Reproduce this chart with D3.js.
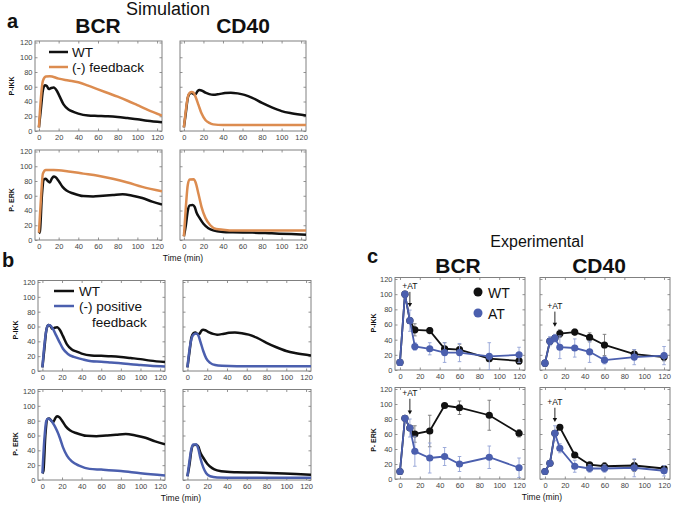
<!DOCTYPE html>
<html>
<head>
<meta charset="utf-8">
<script src="https://cdn.jsdelivr.net/npm/d3@7"></script>
<style>
  body { margin: 0; background: #fff; }
  text { font-family: Arial, "Liberation Sans", sans-serif; }
</style>
</head>
<body>
<div id="chart"></div>
<script>
// Colours
const COL_WT = "#111111";
const COL_FB = "#dc8c50";
const COL_PF = "#4b5fae";

// Tick values
const xTicks = [0, 20, 40, 60, 80, 100, 120];
const yTicks = [0, 20, 40, 60, 80, 100, 120];

// Simulation, WT (shared by a and b)  [time, value]
const wtBcrIkk = [[0,5],[2,30],[4,55],[6,62],[8,61],[10,57],[12,58],[15,59],[18,55],[21,47],[25,36],[30,29],[35,26],[40,23.5],[50,21],[60,20.5],[70,20],[80,19],[90,17.5],[100,16],[110,14],[125,12]];
const wtCd40Ikk = [[0,5],[2,25],[4,45],[6,51],[8,52],[10,50],[12,50],[14,54],[16,55.5],[18,55],[22,52],[26,50],[30,49],[36,50],[42,51.5],[48,52],[55,51],[62,49],[70,45],[80,38],[90,32],[100,27],[110,24],[125,21]];
const wtBcrErk = [[0,9],[1,12],[3,60],[5,82],[7,83],[9,80],[11,78],[13,83],[15,86],[17,85],[20,80],[24,72],[28,67],[35,63],[45,59.5],[55,59],[65,60],[75,61],[85,62],[95,60],[105,57],[115,52],[125,48]];
const wtCd40Erk = [[0,5],[2,20],[4,40],[6,47],[9,47.5],[11,45],[13,37],[16,30],[20,22],[25,16],[30,13],[40,11],[50,10.5],[70,10],[90,9],[110,8],[125,7]];

// Simulation a, (-) feedback
const fbBcrIkk = [[0,5],[2,45],[4,68],[7,74],[11,74.4],[20,71],[30,68.5],[40,66],[50,61.5],[60,56.5],[70,51.5],[80,46.5],[90,41],[100,35],[110,29],[125,21]];
const fbCd40Ikk = [[0,5],[2,28],[4,46],[6,52],[8,53],[10,52],[12,46],[15,35],[18,24],[22,15],[26,11],[30,9],[40,8],[125,8]];
const fbBcrErk = [[0,10],[2,55],[4,90],[7,95],[15,95],[30,93],[45,90],[60,87],[75,83],[90,78],[105,72],[125,66]];
const fbCd40Erk = [[0,5],[2,45],[4,75],[6,82],[10,82.5],[12,78],[15,62],[18,45],[22,30],[27,20],[33,15],[40,14],[50,13],[125,13]];

// Simulation b, (-) positive feedback
const pfBcrIkk = [[0,5],[2,35],[4,55],[6,62],[8,61.5],[11,56],[14,48],[17,40],[21,30],[26,23],[32,19],[40,16],[50,13],[60,12.5],[70,11.5],[80,10.5],[90,9],[100,8],[110,7],[125,6]];
const pfCd40Ikk = [[0,5],[2,28],[4,43],[6,49],[9,50.5],[11,48],[13,40],[16,27],[19,17],[23,11],[28,8],[35,7],[50,6.5],[125,6.5]];
const pfBcrErk = [[0,9],[2,55],[4,80],[6,83],[9,80],[12,74],[15,66],[18,56],[21,44],[25,33],[30,25],[38,19],[48,15],[60,14],[80,12],[100,9],[125,6]];
const pfCd40Erk = [[0,5],[2,25],[4,42],[6,48],[9,48],[11,42],[13,30],[16,17],[19,9],[23,5],[30,3.5],[50,3],[125,3]];

// Experimental c
const expTimes = [0, 5, 10, 15, 30, 45, 60, 90, 120];
const bcrIkkWT = [10, 100, 65, 53, 52, 28, 27, 15, 12];
const bcrIkkWTErr = [0, 0, 0, 8, 4, 8, 7, 4, 4];
const bcrIkkAT = [10, 100, 65, 31, 28, 23, 23, 18, 20];
const bcrIkkATErr = [0, 0, 14, 5, 8, 13, 12, 18, 10];
const cd40IkkWT = [9, 38, 42, 48, 50, 43, 33, 21, 17];
const cd40IkkWTErr = [0, 0, 0, 5, 4, 6, 14, 6, 5];
const cd40IkkAT = [9, 38, 42, 30, 29, 24, 13, 17, 19];
const cd40IkkATErr = [0, 6, 5, 15, 12, 14, 5, 10, 12];
const bcrErkWT = [10, 81, 68, 60, 64, 98, 95, 85, 61];
const bcrErkWTErr = [0, 0, 0, 11, 21, 2, 9, 20, 5];
const bcrErkAT = [10, 81, 68, 37, 28, 30, 20, 29, 15];
const bcrErkATErr = [0, 0, 12, 20, 20, 12, 10, 15, 13];
const cd40ErkWT = [10, 21, 61, 69, 32, 19, 17, 18, 14];
const cd40ErkWTErr = [0, 0, 0, 2, 3, 3, 5, 8, 4];
const cd40ErkAT = [10, 21, 61, 41, 17, 14, 14, 15, 11];
const cd40ErkATErr = [0, 0, 10, 6, 8, 5, 5, 12, 7];

// "+AT" arrows: time, arrow start value, arrow tip value
const atArrows = [
  { t: 10, from: 103, to: 83 },
  { t: 10, from: 77, to: 57 },
  { t: 10, from: 107, to: 86 },
  { t: 10, from: 95, to: 76 }
];

const svg = d3.select("#chart").append("svg")
    .attr("width", 685)
    .attr("height", 505);

let clipId = 0;

// Draw one boxed axes and return its scales
function makeAxes(left, right, top, bottom, xDomain, showY) {
    const x = d3.scaleLinear().domain(xDomain).range([left, right]);
    const y = d3.scaleLinear().domain([0, 120]).range([bottom, top]);
    const g = svg.append("g");
    const boxTop = top - 1.5;

    const tick = 2.5;
    const styleAxis = sel => {
        sel.select(".domain").remove();
        sel.selectAll(".tick line").attr("stroke", "#777").attr("stroke-width", 0.8);
        sel.selectAll(".tick text").attr("fill", "#444").style("font-size", "7.5px");
    };
    g.append("g").attr("transform", `translate(0,${bottom})`)
        .call(d3.axisBottom(x).tickValues(xTicks).tickSizeInner(-tick).tickSizeOuter(0).tickPadding(3.5))
        .call(styleAxis);
    g.append("g").attr("transform", `translate(0,${boxTop})`)
        .call(d3.axisTop(x).tickValues(xTicks).tickSizeInner(-tick).tickSizeOuter(0).tickFormat(""))
        .call(styleAxis);
    const leftAxis = d3.axisLeft(y).tickValues(yTicks).tickSizeInner(-tick).tickSizeOuter(0).tickPadding(2.5);
    if (!showY) leftAxis.tickFormat("");
    g.append("g").attr("transform", `translate(${left},0)`)
        .call(leftAxis)
        .call(styleAxis);
    g.append("g").attr("transform", `translate(${right},0)`)
        .call(d3.axisRight(y).tickValues(yTicks).tickSizeInner(-tick).tickSizeOuter(0).tickFormat(""))
        .call(styleAxis);

    g.append("rect")
        .attr("x", left).attr("y", boxTop)
        .attr("width", right - left).attr("height", bottom - boxTop)
        .attr("fill", "none").attr("stroke", "#808080").attr("stroke-width", 1);

    const id = "clip" + (clipId++);
    svg.append("clipPath").attr("id", id).append("rect")
        .attr("x", left).attr("y", boxTop - 6)
        .attr("width", right - left).attr("height", bottom - boxTop + 6);
    const plot = svg.append("g").attr("clip-path", `url(#${id})`);
    return { x, y, plot };
}

function drawCurve(ax, data, color) {
    const line = d3.line()
        .x(d => ax.x(d[0]))
        .y(d => ax.y(d[1]))
        .curve(d3.curveMonotoneX);
    ax.plot.append("path")
        .datum(data)
        .attr("d", line)
        .attr("fill", "none")
        .attr("stroke", color)
        .attr("stroke-width", 2.5)
        .attr("stroke-linejoin", "round");
}

function drawExp(ax, values, errs, color, errColor) {
    const pts = expTimes.map((t, i) => ({ t, v: values[i], e: errs[i] }));
    const eb = ax.plot.append("g").attr("stroke", errColor).attr("stroke-width", 0.9);
    pts.filter(d => d.e > 0).forEach(d => {
        const cx = ax.x(d.t);
        eb.append("line").attr("x1", cx).attr("x2", cx)
            .attr("y1", ax.y(d.v - d.e)).attr("y2", ax.y(d.v + d.e));
        eb.append("line").attr("x1", cx - 1.8).attr("x2", cx + 1.8)
            .attr("y1", ax.y(d.v + d.e)).attr("y2", ax.y(d.v + d.e));
        eb.append("line").attr("x1", cx - 1.8).attr("x2", cx + 1.8)
            .attr("y1", ax.y(d.v - d.e)).attr("y2", ax.y(d.v - d.e));
    });
    const line = d3.line().x(d => ax.x(d.t)).y(d => ax.y(d.v));
    ax.plot.append("path").datum(pts)
        .attr("d", line).attr("fill", "none")
        .attr("stroke", color).attr("stroke-width", 1.8);
    ax.plot.selectAll(null).data(pts).enter().append("circle")
        .attr("cx", d => ax.x(d.t)).attr("cy", d => ax.y(d.v))
        .attr("r", 3.6).attr("fill", color);
}

function drawArrow(ax, a) {
    const cx = ax.x(a.t);
    const y1 = ax.y(a.from), y2 = ax.y(a.to);
    svg.append("line").attr("x1", cx).attr("x2", cx).attr("y1", y1).attr("y2", y2 - 3)
        .attr("stroke", "#111").attr("stroke-width", 0.9);
    svg.append("path")
        .attr("d", `M${cx - 2.2},${y2 - 4} L${cx + 2.2},${y2 - 4} L${cx},${y2} Z`)
        .attr("fill", "#111");
    svg.append("text").attr("x", cx).attr("y", y1 - 3)
        .attr("text-anchor", "middle").style("font-size", "8.5px").attr("fill", "#111")
        .text("+AT");
}

function label(x, y, txt, size, weight, anchor) {
    return svg.append("text").attr("x", x).attr("y", y)
        .attr("text-anchor", anchor || "middle")
        .style("font-size", size + "px")
        .style("font-weight", weight || "normal")
        .attr("fill", "#111")
        .text(txt);
}

function yLabel(x, y, txt) {
    svg.append("text")
        .attr("transform", `translate(${x},${y}) rotate(-90)`)
        .attr("text-anchor", "middle")
        .attr("dominant-baseline", "central")
        .style("font-size", "7px").style("font-weight", "bold")
        .attr("fill", "#111")
        .text(txt);
}

// ---------- Panel a ----------
const aDom = [-4, 125];
const a1 = makeAxes(35, 162, 42.5, 131, aDom, true);
const a2 = makeAxes(180, 306, 42.5, 131, aDom, false);
const a3 = makeAxes(35, 162, 151.5, 240, aDom, true);
const a4 = makeAxes(180, 306, 151.5, 240, aDom, false);
drawCurve(a1, wtBcrIkk, COL_WT); drawCurve(a1, fbBcrIkk, COL_FB);
drawCurve(a2, wtCd40Ikk, COL_WT); drawCurve(a2, fbCd40Ikk, COL_FB);
drawCurve(a3, wtBcrErk, COL_WT); drawCurve(a3, fbBcrErk, COL_FB);
drawCurve(a4, wtCd40Erk, COL_WT); drawCurve(a4, fbCd40Erk, COL_FB);

label(168, 15, "Simulation", 18);
label(7, 28, "a", 20, "bold", "start");
label(98, 33, "BCR", 21, "bold");
label(243, 33, "CD40", 21, "bold");
yLabel(11, 86, "P-IKK");
yLabel(11, 200, "P- ERK");
label(183, 261, "Time (min)", 8.5);

svg.append("line").attr("x1", 49).attr("x2", 68).attr("y1", 52).attr("y2", 52)
    .attr("stroke", COL_WT).attr("stroke-width", 2.5);
svg.append("line").attr("x1", 49).attr("x2", 68).attr("y1", 67).attr("y2", 67)
    .attr("stroke", COL_FB).attr("stroke-width", 2.5);
label(72, 56.5, "WT", 13.5, "normal", "start");
label(72, 71.5, "(-) feedback", 13.5, "normal", "start");

// ---------- Panel b ----------
const bDom = [-4.5, 125];
const b1 = makeAxes(38, 165, 282, 371, bDom, true);
const b2 = makeAxes(183, 311, 282, 371, bDom, false);
const b3 = makeAxes(38, 165, 391, 480, bDom, true);
const b4 = makeAxes(183, 311, 391, 480, bDom, false);
drawCurve(b1, wtBcrIkk, COL_WT); drawCurve(b1, pfBcrIkk, COL_PF);
drawCurve(b2, wtCd40Ikk, COL_WT); drawCurve(b2, pfCd40Ikk, COL_PF);
drawCurve(b3, wtBcrErk, COL_WT); drawCurve(b3, pfBcrErk, COL_PF);
drawCurve(b4, wtCd40Erk, COL_WT); drawCurve(b4, pfCd40Erk, COL_PF);

label(2, 267, "b", 20, "bold", "start");
yLabel(15, 330, "P-IKK");
yLabel(15, 444, "P- ERK");
label(181, 501, "Time (min)", 8.5);

svg.append("line").attr("x1", 54).attr("x2", 74).attr("y1", 291).attr("y2", 291)
    .attr("stroke", COL_WT).attr("stroke-width", 2.5);
svg.append("line").attr("x1", 54).attr("x2", 74).attr("y1", 306).attr("y2", 306)
    .attr("stroke", COL_PF).attr("stroke-width", 2.5);
label(79, 295.5, "WT", 13.5, "normal", "start");
label(79, 310.5, "(-) positive", 13.5, "normal", "start");
label(92, 326.5, "feedback", 13.5, "normal", "start");

// ---------- Panel c ----------
const cDom = [-5, 126];
const c1 = makeAxes(395, 525, 279, 370, cDom, true);
const c2 = makeAxes(540, 670, 279, 370, cDom, false);
const c3 = makeAxes(395, 525, 389, 479, cDom, true);
const c4 = makeAxes(540, 670, 389, 479, cDom, false);
const ERR_WT = "#777", ERR_AT = "#93a3d6";
drawExp(c1, bcrIkkWT, bcrIkkWTErr, COL_WT, ERR_WT); drawExp(c1, bcrIkkAT, bcrIkkATErr, COL_PF, ERR_AT);
drawExp(c2, cd40IkkWT, cd40IkkWTErr, COL_WT, ERR_WT); drawExp(c2, cd40IkkAT, cd40IkkATErr, COL_PF, ERR_AT);
drawExp(c3, bcrErkWT, bcrErkWTErr, COL_WT, ERR_WT); drawExp(c3, bcrErkAT, bcrErkATErr, COL_PF, ERR_AT);
drawExp(c4, cd40ErkWT, cd40ErkWTErr, COL_WT, ERR_WT); drawExp(c4, cd40ErkAT, cd40ErkATErr, COL_PF, ERR_AT);
[c1, c2, c3, c4].forEach((ax, i) => drawArrow(ax, atArrows[i]));

label(537, 247, "Experimental", 16);
label(367, 263, "c", 20, "bold", "start");
label(458, 273, "BCR", 21, "bold");
label(599, 273, "CD40", 21, "bold");
yLabel(373, 323, "P-IKK");
yLabel(373, 440, "P- ERK");
label(542, 500, "Time (min)", 8.5);

svg.append("circle").attr("cx", 478).attr("cy", 292).attr("r", 4.5).attr("fill", COL_WT);
svg.append("circle").attr("cx", 478).attr("cy", 313).attr("r", 4.5).attr("fill", COL_PF);
label(488, 297.5, "WT", 14, "normal", "start");
label(488, 318.5, "AT", 14, "normal", "start");
</script>
</body>
</html>
